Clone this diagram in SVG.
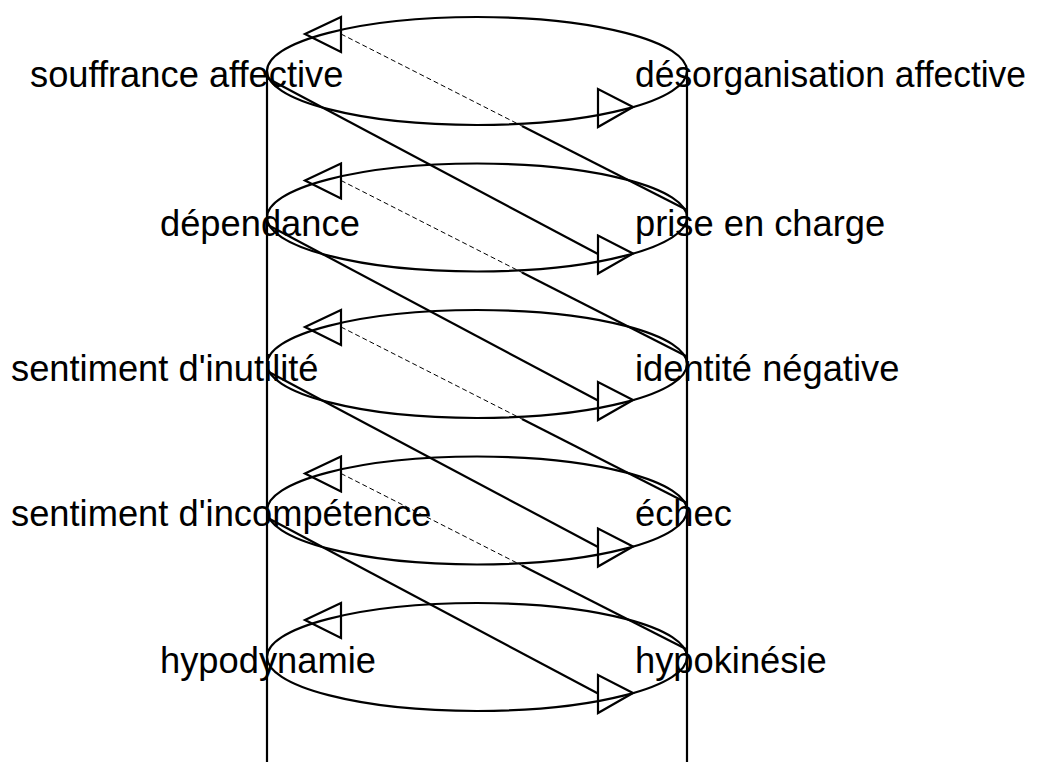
<svg xmlns="http://www.w3.org/2000/svg" width="1038" height="762" viewBox="0 0 1038 762">
<style>
.e{fill:none;stroke:#000;stroke-width:2.2}
.a{fill:none;stroke:#000;stroke-width:2.2;stroke-linejoin:miter}
.s{stroke:#000;stroke-width:2.2;fill:none}
.d{stroke:#000;stroke-width:1;stroke-dasharray:5,3;fill:none}
.t{font-family:"Liberation Sans",Arial,sans-serif;font-size:36.3px;fill:#000}
</style>
<rect width="1038" height="762" fill="#fff"/>
<g id="cylinder">
<line class="s" x1="267" y1="71" x2="267" y2="762"/>
<line class="s" x1="687" y1="71" x2="687" y2="762"/>
</g>
<g id="level1">
<ellipse class="e" cx="477" cy="71" rx="210" ry="54"/>
<polygon class="a" points="305,34 341,17 341,52"/>
<polygon class="a" points="633,107 598,89 598,127"/>
<text class="t" x="30" y="87">souffrance affective</text>
<text class="t" x="635" y="87" textLength="391" lengthAdjust="spacingAndGlyphs">désorganisation affective</text>
</g>
<g id="level2" transform="translate(0,146.5)">
<ellipse class="e" cx="477" cy="71" rx="210" ry="54"/>
<polygon class="a" points="305,34 341,17 341,52"/>
<polygon class="a" points="633,107 598,89 598,127"/>
<text class="t" x="160" y="89.5">dépendance</text>
<text class="t" x="635" y="89.5">prise en charge</text>
</g>
<g id="level3" transform="translate(0,293)">
<ellipse class="e" cx="477" cy="71" rx="210" ry="54"/>
<polygon class="a" points="305,34 341,17 341,52"/>
<polygon class="a" points="633,107 598,89 598,127"/>
<text class="t" x="11" y="88">sentiment d'inutilité</text>
<text class="t" x="635" y="88">identité négative</text>
</g>
<g id="level4" transform="translate(0,439.5)">
<ellipse class="e" cx="477" cy="71" rx="210" ry="54"/>
<polygon class="a" points="305,34 341,17 341,52"/>
<polygon class="a" points="633,107 598,89 598,127"/>
<text class="t" x="11" y="86">sentiment d'incompétence</text>
<text class="t" x="635" y="86">échec</text>
</g>
<g id="level5" transform="translate(0,586)">
<ellipse class="e" cx="477" cy="71" rx="210" ry="54"/>
<polygon class="a" points="305,34 341,17 341,52"/>
<polygon class="a" points="633,107 598,89 598,127"/>
<text class="t" x="160" y="87">hypodynamie</text>
<text class="t" x="635" y="87">hypokinésie</text>
</g>
<g id="connectors">
<g>
<line class="d" x1="341" y1="34" x2="522" y2="126"/>
<line class="s" x1="522" y1="126" x2="687" y2="210"/>
<line class="s" x1="267" y1="78" x2="598" y2="254"/>
</g>
<g transform="translate(0,146.5)">
<line class="d" x1="341" y1="34" x2="522" y2="126"/>
<line class="s" x1="522" y1="126" x2="687" y2="210"/>
<line class="s" x1="267" y1="78" x2="598" y2="254"/>
</g>
<g transform="translate(0,293)">
<line class="d" x1="341" y1="34" x2="522" y2="126"/>
<line class="s" x1="522" y1="126" x2="687" y2="210"/>
<line class="s" x1="267" y1="78" x2="598" y2="254"/>
</g>
<g transform="translate(0,439.5)">
<line class="d" x1="341" y1="34" x2="522" y2="126"/>
<line class="s" x1="522" y1="126" x2="687" y2="210"/>
<line class="s" x1="267" y1="78" x2="598" y2="254"/>
</g>
</g>
</svg>
